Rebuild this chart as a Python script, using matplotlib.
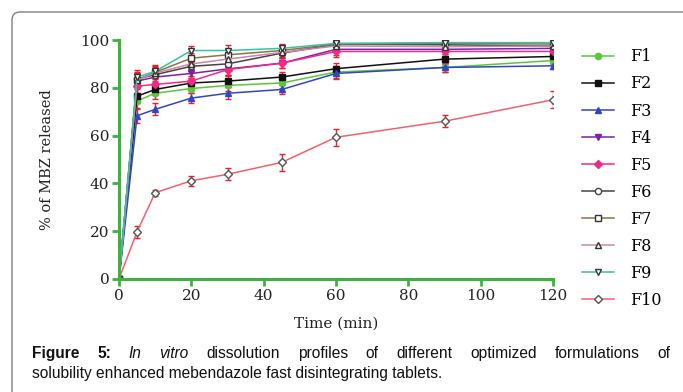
import matplotlib
matplotlib.use("Agg")
import matplotlib.pyplot as plt
from matplotlib.patches import FancyBboxPatch

# sampling times (min)
time_min = [0, 5, 10, 20, 30, 45, 60, 90, 120]

labels = ["F1", "F2", "F3", "F4", "F5", "F6", "F7", "F8", "F9", "F10"]

# % of MBZ released
f1 = [0, 74.5, 77.7, 79.7, 81.0, 82.0, 86.6, 88.5, 91.4]
f2 = [0, 76.5, 79.3, 82.0, 82.8, 84.5, 88.0, 92.0, 93.1]
f3 = [0, 68.3, 71.0, 75.7, 77.7, 79.3, 86.0, 88.5, 89.2]
f4 = [0, 82.8, 84.5, 86.0, 87.9, 90.3, 96.1, 96.1, 96.5]
f5 = [0, 80.7, 81.4, 82.8, 87.6, 90.3, 95.2, 95.2, 95.2]
f6 = [0, 83.7, 85.5, 89.0, 90.0, 94.5, 98.2, 98.0, 97.5]
f7 = [0, 83.4, 86.5, 92.4, 93.8, 95.6, 98.3, 98.6, 98.3]
f8 = [0, 83.2, 86.2, 90.0, 92.0, 94.8, 97.5, 97.2, 97.5]
f9 = [0, 84.5, 86.9, 95.6, 95.6, 96.5, 98.6, 98.9, 98.9]
f10 = [0, 19.8, 36.1, 41.1, 43.8, 48.8, 59.3, 66.0, 75.0]

# standard deviations
sd_fast = [0, 3.0, 2.5, 2.0, 2.5, 2.0, 2.5, 2.0, 1.5]
sd_f10 = [0, 2.5, 1.2, 2.0, 2.5, 3.5, 3.5, 2.5, 3.5]

series = [f1, f2, f3, f4, f5, f6, f7, f8, f9, f10]
errors = [sd_fast] * 9 + [sd_f10]

styles = [
    dict(color="#5ac83a", marker="o", mfc="#5ac83a", mec="#5ac83a"),
    dict(color="#111111", marker="s", mfc="#111111", mec="#111111"),
    dict(color="#3344c4", marker="^", mfc="#3344c4", mec="#3344c4"),
    dict(color="#7a22a8", marker="v", mfc="#7a22a8", mec="#7a22a8"),
    dict(color="#f02a86", marker="D", mfc="#f02a86", mec="#f02a86"),
    dict(color="#444444", marker="o", mfc="white", mec="#444444"),
    dict(color="#8c7444", marker="s", mfc="white", mec="#333333"),
    dict(color="#c888a8", marker="^", mfc="white", mec="#333333"),
    dict(color="#34c4a4", marker="v", mfc="white", mec="#333333"),
    dict(color="#f2606c", marker="D", mfc="white", mec="#555555"),
]

W, H = 683, 392
fig = plt.figure(figsize=(W / 100, H / 100), dpi=100)

# rounded frame around the whole panel
frame = FancyBboxPatch((12 / 100, -0.3), 7.2, (H - 12) / 100 + 0.3,
                       boxstyle="round,pad=0,rounding_size=0.08",
                       transform=fig.dpi_scale_trans, fc="none",
                       ec="#808080", lw=1.0)
fig.patches.append(frame)

green = "#3cb43c"
serif = "DejaVu Serif"

ax = fig.add_axes([119 / W, 1 - 279 / H, (553 - 119) / W, (279 - 40) / H])
for y, e, st in zip(series, errors, styles):
    ax.errorbar(time_min, y, yerr=e, color=st["color"], lw=1.1,
                marker=st["marker"], ms=4.5, mfc=st["mfc"], mec=st["mec"],
                mew=1.0, ecolor="#e8202c", elinewidth=1.0, capsize=2.5,
                capthick=1.2)

ax.set_xlim(0, 120)
ax.set_ylim(0, 100)
ax.set_xticks([0, 20, 40, 60, 80, 100, 120])
ax.set_yticks([0, 20, 40, 60, 80, 100])
for s in ["top", "right"]:
    ax.spines[s].set_visible(False)
for s in ["left", "bottom"]:
    ax.spines[s].set_color(green)
    ax.spines[s].set_linewidth(2.2)
ax.tick_params(colors=green, width=2.0, length=5, labelcolor="#222222",
               labelsize=11, pad=2)
for t in ax.get_xticklabels() + ax.get_yticklabels():
    t.set_fontfamily(serif)
ax.set_xlabel("Time (min)", fontfamily=serif, fontsize=11, color="#222222",
              labelpad=10)
ax.set_ylabel("% of MBZ released", fontfamily=serif, fontsize=10.5,
              color="#222222", labelpad=19)

handles = []
for st in styles:
    h, = ax.plot([], [], color=st["color"], lw=1.1, marker=st["marker"],
                 ms=4.5, mfc=st["mfc"], mec=st["mec"], mew=1.0)
    handles.append(h)
fig.legend(handles, labels, loc="upper left",
           bbox_to_anchor=(576 / W, 1 - 42 / H), frameon=False,
           prop={"family": serif, "size": 11.5}, handlelength=2.0,
           handletextpad=1.0, labelspacing=0.63, borderaxespad=0)

# caption
cap_font = "Liberation Sans"
cap_size = 11.2

line1 = [("Figure", "bold", "normal"), ("5:", "bold", "normal"),
         ("In", "normal", "italic"), ("vitro", "normal", "italic"),
         ("dissolution", "normal", "normal"), ("profiles", "normal", "normal"),
         ("of", "normal", "normal"), ("different", "normal", "normal"),
         ("optimized", "normal", "normal"), ("formulations", "normal", "normal"),
         ("of", "normal", "normal")]
texts = []
for word, wt, sty in line1:
    texts.append(fig.text(0, 1 - 358 / H, word, fontfamily=cap_font,
                          fontsize=cap_size, fontweight=wt, fontstyle=sty,
                          color="#111111", va="baseline"))
fig.canvas.draw()
renderer = fig.canvas.get_renderer()
widths = [t.get_window_extent(renderer).width for t in texts]
x_left, x_right = 32, 670
gap = (x_right - x_left - sum(widths)) / (len(texts) - 1)
x = x_left
for t, w in zip(texts, widths):
    t.set_x(x / W)
    x += w + gap

fig.text(32 / W, 1 - 378 / H,
         "solubility enhanced mebendazole fast disintegrating tablets.",
         fontfamily=cap_font, fontsize=cap_size, color="#111111",
         va="baseline")

fig.savefig("out.png", dpi=100)
